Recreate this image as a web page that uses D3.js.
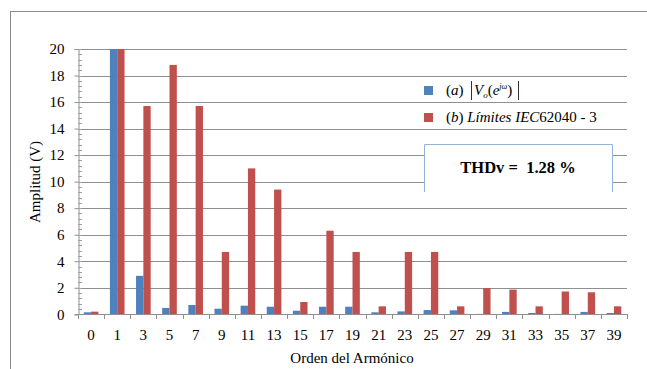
<!DOCTYPE html>
<html>
<head>
<meta charset="utf-8">
<script src="https://cdn.jsdelivr.net/npm/d3@7"></script>
</head>
<body style="margin:0">
<div id="container"></div>
<script>
const width = 647;
const height = 369;
const serif = "'Times New Roman'";

// harmonic orders and amplitudes (V)
const orders = ["0", "1", "3", "5", "7", "9", "11", "13", "15", "17", "19", "21", "23", "25", "27", "29", "31", "33", "35", "37", "39"];
const measured = [0.15, 20, 2.9, 0.48, 0.7, 0.42, 0.65, 0.57, 0.27, 0.57, 0.57, 0.15, 0.22, 0.32, 0.3, 0.03, 0.18, 0.1, 0.03, 0.18, 0.1];
const limits = [0.2, 20, 15.7, 18.8, 15.7, 4.7, 11.0, 9.4, 0.93, 6.3, 4.7, 0.6, 4.7, 4.7, 0.6, 1.98, 1.86, 0.6, 1.72, 1.66, 0.6];
const yTicks = [0, 2, 4, 6, 8, 10, 12, 14, 16, 18, 20];

let svg = d3.select("#container").append("svg")
    .attr("width", width)
    .attr("height", height);

// outer chart frame
svg.append("rect")
    .attr("x", 10.5)
    .attr("y", 11.5)
    .attr("width", 700)
    .attr("height", 400)
    .attr("fill", "none")
    .attr("stroke", "#8c8c8c");

let x = d3.scaleBand().domain(orders).range([78, 627]);
let y = d3.scaleLinear().domain([0, 20]).range([314.3, 49]);

// gridlines
svg.append("g")
    .selectAll("line")
    .data(yTicks.slice(1))
    .join("line")
    .attr("x1", 78)
    .attr("x2", 627)
    .attr("y1", d => Math.round(y(d)) + 0.5)
    .attr("y2", d => Math.round(y(d)) + 0.5)
    .attr("stroke", "#8f8f8f");

// bars
let bw = x.bandwidth() * 0.28;
let bars = svg.append("g");
bars.selectAll("rect.a")
    .data(measured)
    .join("rect")
    .attr("class", "a")
    .attr("x", (d, i) => x(orders[i]) + x.bandwidth() / 2 - bw)
    .attr("y", d => y(d))
    .attr("width", bw)
    .attr("height", d => y(0) - y(d))
    .attr("fill", "#4f81bd");
bars.selectAll("rect.b")
    .data(limits)
    .join("rect")
    .attr("class", "b")
    .attr("x", (d, i) => x(orders[i]) + x.bandwidth() / 2)
    .attr("y", d => y(d))
    .attr("width", bw)
    .attr("height", d => y(0) - y(d))
    .attr("fill", "#c0504d");

// y axis
let yAxis = svg.append("g")
    .attr("transform", "translate(78.5,0)")
    .call(d3.axisLeft(y).tickValues(yTicks).tickSize(4).tickPadding(10));
yAxis.attr("font-family", "Times New Roman").attr("font-size", 15);
yAxis.select(".domain").attr("stroke", "#8f8f8f");
yAxis.selectAll(".tick line").attr("stroke", "#8f8f8f");
yAxis.selectAll(".tick text").attr("fill", "#000");

// minor ticks
svg.append("g")
    .selectAll("line")
    .data(d3.range(0, 20.01, 0.4))
    .join("line")
    .attr("x1", 78)
    .attr("x2", 82)
    .attr("y1", d => Math.round(y(d)) + 0.5)
    .attr("y2", d => Math.round(y(d)) + 0.5)
    .attr("stroke", "#a0a0a0");

// x axis
let xg = svg.append("g");
xg.append("line")
    .attr("x1", 78)
    .attr("x2", 627)
    .attr("y1", 314.5)
    .attr("y2", 314.5)
    .attr("stroke", "#8f8f8f");
xg.selectAll("line.t")
    .data(d3.range(orders.length + 1))
    .join("line")
    .attr("class", "t")
    .attr("x1", i => Math.round(78 + i * x.step()) + 0.5)
    .attr("x2", i => Math.round(78 + i * x.step()) + 0.5)
    .attr("y1", 314)
    .attr("y2", 319)
    .attr("stroke", "#8f8f8f");
xg.selectAll("text")
    .data(orders)
    .join("text")
    .attr("x", d => x(d) + x.bandwidth() / 2)
    .attr("y", 340)
    .attr("text-anchor", "middle")
    .attr("font-size", 15)
    .text(d => d);

// axis titles
svg.append("text")
    .attr("transform", "translate(40,182) rotate(-90)")
    .attr("text-anchor", "middle")
    .attr("font-size", 15)
    .text("Amplitud (V)");
svg.append("text")
    .attr("x", 352)
    .attr("y", 363)
    .attr("text-anchor", "middle")
    .attr("font-size", 15)
    .text("Orden del Armónico");

// legend
let lg = svg.append("g");
lg.append("rect").attr("x", 424).attr("y", 86).attr("width", 9).attr("height", 9).attr("fill", "#4f81bd");
lg.append("rect").attr("x", 424).attr("y", 113).attr("width", 9).attr("height", 9).attr("fill", "#c0504d");

let ta = lg.append("text").attr("x", 446).attr("y", 95).attr("font-size", 15);
ta.append("tspan").text("(");
ta.append("tspan").attr("font-style", "italic").text("a");
ta.append("tspan").text(")");
ta.append("tspan").attr("x", 474).attr("font-style", "italic").text("V");
ta.append("tspan").attr("font-style", "italic").attr("font-size", 9).attr("dy", 3).text("o");
ta.append("tspan").attr("dy", -3).text("(");
ta.append("tspan").attr("font-style", "italic").text("e");
ta.append("tspan").attr("font-style", "italic").attr("font-size", 8).attr("dy", -6).text("jω");
ta.append("tspan").attr("dy", 6).text(")");
lg.append("line").attr("x1", 471.5).attr("x2", 471.5).attr("y1", 81).attr("y2", 100).attr("stroke", "#333");
lg.append("line").attr("x1", 518.5).attr("x2", 518.5).attr("y1", 81).attr("y2", 100).attr("stroke", "#333");

let tb = lg.append("text").attr("x", 446).attr("y", 122).attr("font-size", 15);
tb.append("tspan").text("(");
tb.append("tspan").attr("font-style", "italic").text("b");
tb.append("tspan").text(") ");
tb.append("tspan").attr("font-style", "italic").text("Límites IEC");
tb.append("tspan").text("62040 - 3");

// THD box
let box = svg.append("g");
box.append("rect")
    .attr("x", 424).attr("y", 144).attr("width", 189).attr("height", 48)
    .attr("fill", "#fff");
box.append("path")
    .attr("d", "M424.5,192V144.5H612.5V192")
    .attr("fill", "none")
    .attr("stroke", "#95b3d7");
box.append("text")
    .attr("x", 518)
    .attr("y", 173)
    .attr("text-anchor", "middle")
    .attr("font-size", 16.5)
    .attr("font-weight", "bold")
    .style("white-space", "pre")
    .text("THDv =  1.28 %");

svg.selectAll("text")
    .attr("font-family", "Times New Roman")
    .style("font-family", serif);
</script>
</body>
</html>
